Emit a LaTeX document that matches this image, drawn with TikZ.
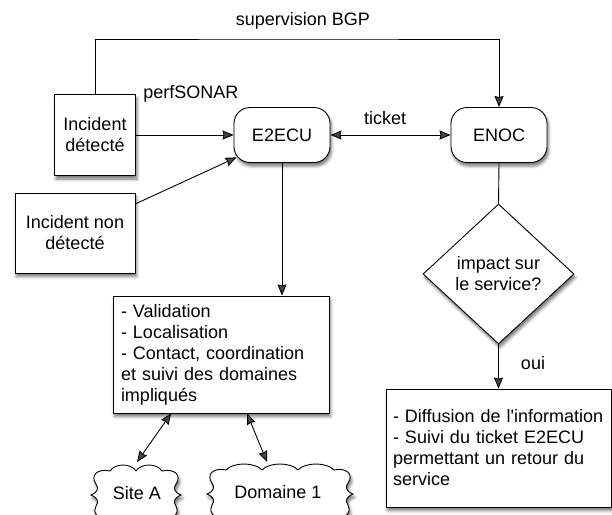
\documentclass[tikz,border=0pt]{standalone}
\usepackage{fontspec}
\setmainfont{Liberation Sans}[Ligatures=TeXOff]
\usetikzlibrary{shapes.geometric,arrows.meta,calc,shadows.blur}

\begin{document}
\begin{tikzpicture}[x=1pt,y=-1pt,
  font=\fontsize{18}{21}\selectfont,
  line width=0.9pt,
  tip/.tip={Stealth[length=11pt,width=9pt,inset=1pt]},
  arr/.style={-tip},
  darr/.style={tip-tip},
  soft/.style={blur shadow={shadow xshift=1.5pt,shadow yshift=-3.5pt,shadow blur radius=3pt,shadow opacity=55}},
  box/.style={draw,fill=white,rectangle,inner sep=0pt,align=center,soft},
  listbox/.style={draw,fill=white,rectangle,inner ysep=0pt,align=left,soft},
  term/.style={draw,fill=white,rounded corners=16pt,minimum width=96pt,minimum height=55pt,inner sep=0pt,soft},
  decision/.style={draw,fill=white,diamond,minimum width=151pt,minimum height=140pt,inner sep=0pt,align=center,soft},
  puff/.style={draw,fill=white,soft},
  lbl/.style={inner sep=0pt}
]
\useasboundingbox (0,0) rectangle (612,514);
\clip (0,0) rectangle (612,514);

% incidents
\node[box,minimum width=81pt,minimum height=81pt] (inc1) at (95,135) {Incident\\détecté};
\node[box,minimum width=120pt,minimum height=80pt] (inc2) at (75,233) {Incident non\\détecté};

% operation centres
\node[term] (e2ecu) at (282,135) {E2ECU};
\node[term] (enoc) at (499,135) {ENOC};

% decision
\node[decision] (impact) at (498.5,274) {impact sur\\le service?};

% task lists
\node[listbox,text width=200pt,inner xsep=8pt,minimum height=117pt] (valid) at (221,354.5)
  {- Validation\\- Localisation\\- Contact, coordination\\et suivi des domaines\\impliqués};
\node[listbox,text width=211pt,inner xsep=7pt,minimum height=118pt] (diff) at (498.5,448)
  {- Diffusion de l'information\\- Suivi du ticket E2ECU\\permettant un retour du\\service};

% involved parties: cloud outlines, then their labels
\coordinate (siteAc) at (136,493);
\coordinate (dom1c) at (280,492);
\draw[puff,shift={(siteAc)}]
  (-45,2) .. controls (-38,-1) and (-37,-5) .. (-40,-9)
  .. controls (-46,-17) and (-39,-25) .. (-26,-22)
  .. controls (-21,-30) and (-5,-30) .. (0,-22)
  .. controls (5,-30) and (21,-30) .. (26,-22)
  .. controls (39,-25) and (46,-17) .. (40,-9)
  .. controls (37,-5) and (38,-1) .. (45,2)
  .. controls (38,5) and (37,9) .. (40,13)
  .. controls (43,18) and (41,26) .. (26,28)
  .. controls (21,36) and (5,36) .. (0,28)
  .. controls (-5,36) and (-21,36) .. (-26,28)
  .. controls (-41,26) and (-43,18) .. (-40,13)
  .. controls (-37,9) and (-38,5) .. cycle;
\draw[puff,shift={(dom1c)}]
  (-73,2) .. controls (-66,-1) and (-65,-5) .. (-68,-9)
  .. controls (-74,-17) and (-67,-25) .. (-54,-22)
  .. controls (-47,-30) and (-25,-30) .. (-18,-22)
  .. controls (-11,-30) and (11,-30) .. (18,-22)
  .. controls (25,-30) and (47,-30) .. (54,-22)
  .. controls (67,-25) and (74,-17) .. (68,-9)
  .. controls (65,-5) and (66,-1) .. (73,2)
  .. controls (66,5) and (65,9) .. (68,13)
  .. controls (71,18) and (69,26) .. (54,28)
  .. controls (47,36) and (25,36) .. (18,28)
  .. controls (11,36) and (-11,36) .. (-18,28)
  .. controls (-25,36) and (-47,36) .. (-54,28)
  .. controls (-69,26) and (-71,18) .. (-68,13)
  .. controls (-65,9) and (-66,5) .. cycle;
\node[lbl] (siteA) at (137,493) {Site A};
\node[lbl] (dom1) at (278,492) {Domaine 1};

% BGP supervision path
\coordinate (bgp) at (300,39);
\draw[arr] (inc1.north) |- (bgp) -| (enoc.north);
\node[lbl] (bgplbl) at (303,21) {supervision BGP};

% detection paths
\draw[arr] (inc1.east) -- (e2ecu.west);
\node[lbl,anchor=west] (perf) at (143,94) {perfSONAR};
\draw[arr] ($(inc2.north east)!0.14!(inc2.south east)$) -- ([xshift=3pt]$(e2ecu.west)!0.8!(e2ecu.south west)$);

% ticket exchange
\draw[darr] (e2ecu.east) -- (enoc.west);
\node[lbl] (ticket) at (385,118) {ticket};

% E2ECU processing
\draw[arr] (e2ecu.south) -- (e2ecu.south |- valid.north);
\coordinate (sitetop) at (137,462);
\coordinate (domtop) at (267,462);
\draw[darr] ($(valid.south west)!0.27!(valid.south east)$) -- (sitetop);
\draw[darr] ($(valid.south west)!0.62!(valid.south east)$) -- (domtop);

% ENOC processing
\draw (enoc.south) -- (impact.north);
\draw[arr] (impact.south) -- (impact.south |- diff.north);
\node[lbl] (oui) at (533,363) {oui};
\end{tikzpicture}
\end{document}
